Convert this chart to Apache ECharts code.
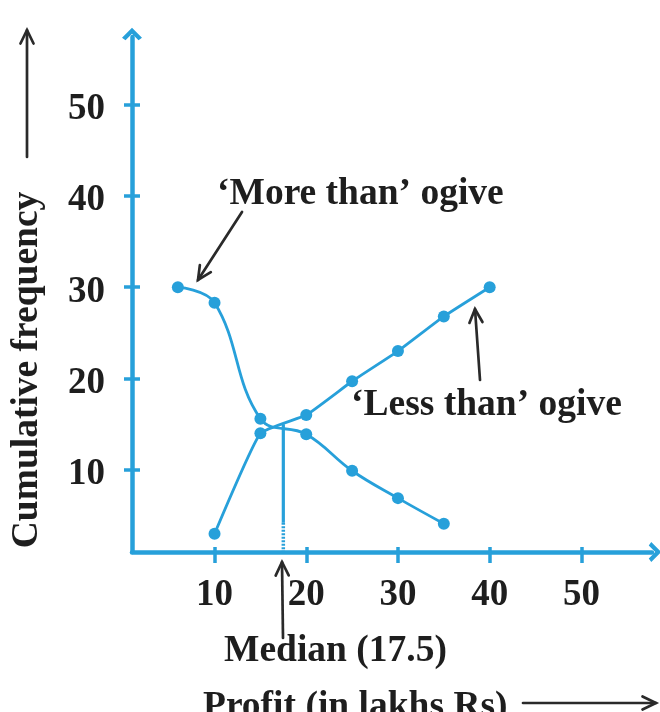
<!DOCTYPE html>
<html><head><meta charset="utf-8">
<script src="https://cdn.jsdelivr.net/npm/echarts@6/dist/echarts.min.js"></script>
<style>html,body{margin:0;padding:0;background:#fff}#c{width:660px;height:712px}</style>
</head><body><div id="c"></div>
<script>
// ---- data ----
const lessThanX  = [10, 15, 20, 25, 30, 35, 40];
const lessThanCf = [3, 14, 16, 19.7, 23, 26.8, 30];
const moreThanX  = [6, 10, 15, 20, 25, 30, 35];
const moreThanCf = [30, 28.3, 15.6, 13.9, 9.9, 6.9, 4.1];
const xTicks = [10, 20, 30, 40, 50];
const yTicks = [10, 20, 30, 40, 50];
const medianProfit = 17.5;
const medianCf = 15;
const medianDotFrom = 4.2;   // cf where the median line turns dotted

const BLUE = '#27a0da';
const INK = '#1e1e1e';
const FONT = "'Liberation Serif','Times New Roman',serif";
const xMin = 1, xMax = 57.7, yMin = 1, yMax = 57.4;

const chev = 'path://M0,10 L10,0 L20,10 L16.5,12.5 L10,6 L3.5,12.5 Z';

function zip(xs, ys) { return xs.map((x, i) => [x, ys[i]]); }

function arrow(x1, y1, x2, y2) {
  const a = Math.atan2(y2 - y1, x2 - x1), L = 15, w = 0.45;
  const st = { stroke: '#2a2a2a', lineWidth: 2.7, fill: null, lineCap: 'round', lineJoin: 'miter' };
  return [
    { type: 'line', shape: { x1, y1, x2, y2 }, style: st },
    { type: 'polyline', shape: { points: [
      [x2 - L * Math.cos(a - w), y2 - L * Math.sin(a - w)], [x2, y2],
      [x2 - L * Math.cos(a + w), y2 - L * Math.sin(a + w)]] }, style: st }
  ];
}
function label(text, x, y, extra) {
  return Object.assign({ type: 'text', x: x, y: y, style: {
    text: text, x: 0, y: 0, fill: INK, font: 'bold 37.5px ' + FONT,
    align: 'left', verticalAlign: 'middle', textAlign: 'left', textVerticalAlign: 'middle' } }, extra || {});
}

const chart = echarts.init(document.getElementById('c'), null, { renderer: 'canvas' });

const axisFont = { color: INK, fontSize: 37, fontWeight: 'bold', fontFamily: FONT };

const option = {
  backgroundColor: '#fff',
  animation: false,
  grid: { left: 132, right: 8, top: 37, bottom: 160, containLabel: false, outerBoundsMode: 'none' },
  xAxis: [
    { type: 'value', min: xMin, max: xMax, position: 'bottom',
      axisLine: { show: true, onZero: false, symbol: ['none', chev], symbolSize: [20, 13], symbolOffset: [0, 3],
        lineStyle: { color: BLUE, width: 4.5 } },
      axisTick: { show: true, customValues: xTicks, length: 11, lineStyle: { color: BLUE, width: 3.5 } },
      axisLabel: Object.assign({ show: true, customValues: xTicks, margin: 25 }, axisFont),
      splitLine: { show: false } },
    { type: 'value', min: xMin, max: xMax, position: 'bottom',
      axisLine: { show: false, onZero: false },
      axisTick: { show: true, inside: true, customValues: xTicks, length: 5, lineStyle: { color: BLUE, width: 3.5 } },
      axisLabel: { show: false }, splitLine: { show: false } }
  ],
  yAxis: [
    { type: 'value', min: yMin, max: yMax, position: 'left',
      axisLine: { show: true, onZero: false, symbol: ['none', chev], symbolSize: [20, 13], symbolOffset: [0, 3],
        lineStyle: { color: BLUE, width: 4.5 } },
      axisTick: { show: true, customValues: yTicks, length: 8, lineStyle: { color: BLUE, width: 3.5 } },
      axisLabel: Object.assign({ show: true, customValues: yTicks, margin: 27, verticalAlign: 'top', lineHeight: 10 }, axisFont),
      splitLine: { show: false } },
    { type: 'value', min: yMin, max: yMax, position: 'left',
      axisLine: { show: false, onZero: false },
      axisTick: { show: true, inside: true, customValues: yTicks, length: 8, lineStyle: { color: BLUE, width: 3.5 } },
      axisLabel: { show: false }, splitLine: { show: false } }
  ],
  series: [
    { name: 'Less than', type: 'line', data: zip(lessThanX, lessThanCf), smooth: 0.12,
      symbol: 'circle', symbolSize: 12, itemStyle: { color: BLUE },
      lineStyle: { color: BLUE, width: 2.8 }, clip: false, z: 3 },
    { name: 'More than', type: 'line', data: zip(moreThanX, moreThanCf), smooth: 0.4,
      symbol: 'circle', symbolSize: 12, itemStyle: { color: BLUE },
      lineStyle: { color: BLUE, width: 2.8 }, clip: false, z: 3 },
    { name: 'Median', type: 'line', data: [[medianProfit, medianCf], [medianProfit, medianDotFrom]],
      symbol: 'none', lineStyle: { color: BLUE, width: 3.2 }, z: 2 },
    { name: 'Median dotted', type: 'line', data: [[medianProfit, medianDotFrom], [medianProfit, yMin]],
      symbol: 'none', lineStyle: { color: BLUE, width: 3.5, type: [2, 1.5] }, z: 2 }
  ],
  graphic: { elements: [].concat(
    label('\u2018More than\u2019 ogive', 217, 194),
    label('\u2018Less than\u2019 ogive', 351, 405),
    label('Median (17.5)', 224, 651),
    label('Profit (in lakhs Rs)', 203, 707),
    label('Cumulative frequency', 27, 370, { rotation: Math.PI / 2 }),
    arrow(242, 212, 198, 280),
    arrow(480, 380, 475, 309),
    arrow(283, 638, 282, 562),
    arrow(523, 703, 656, 703),
    arrow(27, 157, 27, 30)
  ) }
};
// centre the rotated axis name
option.graphic.elements.forEach(function (e) {
  if (e.rotation) { e.style.align = 'center'; e.style.textAlign = 'center'; }
});
chart.setOption(option);
</script>
</body></html>
